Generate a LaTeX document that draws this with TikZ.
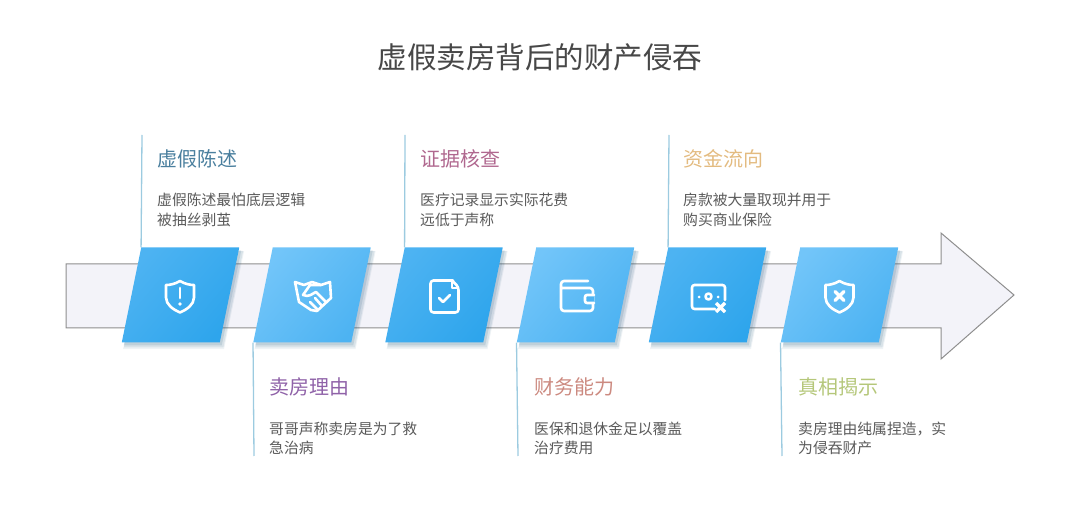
\documentclass[tikz,border=0pt]{standalone}
\usepackage{fontspec}
\setmainfont{Noto Sans CJK SC}
\usetikzlibrary{calc,shadows,shapes.geometric}
\definecolor{BodyGray}{HTML}{5A5A5A}
\definecolor{TitleGray}{HTML}{474747}
\definecolor{ArrowFill}{HTML}{F3F3F9}
\definecolor{ArrowEdge}{HTML}{8E8E8E}
\definecolor{StemBlue}{HTML}{9CCBE0}
\definecolor{PanelLight}{HTML}{72C5F9}
\definecolor{PanelMid}{HTML}{4DB3F2}
\definecolor{PanelDark}{HTML}{2EA5EC}
\definecolor{LieBlue}{HTML}{4A7F9E}
\definecolor{ReasonPurple}{HTML}{8F62A8}
\definecolor{ProofRose}{HTML}{B0688F}
\definecolor{MoneyRed}{HTML}{CC8A80}
\definecolor{FlowGold}{HTML}{E3BB80}
\definecolor{TruthGreen}{HTML}{B5C77A}
\tikzset{
    panel/.style={rectangle,minimum width=98pt,minimum height=95pt,inner sep=0pt,xslant=.205,transform shape,
      general shadow={shadow xshift=3pt,shadow yshift=-5pt,shadow scale=1.03,fill=PanelDark!50!black,opacity=.07},
      general shadow={shadow xshift=3pt,shadow yshift=-4pt,shadow scale=1.015,fill=PanelDark!50!black,opacity=.10},
      general shadow={shadow xshift=2pt,shadow yshift=-3pt,fill=PanelDark!50!black,opacity=.13}},
    deeppanel/.style={panel,top color=PanelMid,bottom color=PanelDark,shading angle=50},
    palepanel/.style={panel,top color=PanelLight,bottom color=PanelMid,shading angle=50},
    stem/.style={StemBlue,line width=1.3pt},
    headtext/.style={anchor=west,inner sep=0pt,font=\fontsize{20}{24}\selectfont},
    bodytext/.style={anchor=north west,inner sep=0pt,align=left,text=BodyGray,font=\fontsize{14.8}{19.4}\selectfont},
    icon/.style={white,line width=2.6pt,line cap=round,line join=round},
    shieldicon/.pic={
      \draw[icon] (0,-15.5) .. controls (5,-12.5) and (10,-11.5) .. (14,-11.5) -- (14,1)
        .. controls (14,8) and (7,13) .. (0,16) .. controls (-7,13) and (-14,8) .. (-14,1) -- (-14,-11.5)
        .. controls (-10,-11.5) and (-5,-12.5) .. (0,-15.5) -- cycle;
    }
}
\begin{document}
\begin{tikzpicture}[x=1pt,y=-1pt]
    \useasboundingbox (0,0) rectangle (1080,510);
    \node[anchor=center,inner sep=0pt,text=TitleGray,font=\fontsize{29.5}{34}\selectfont] (title) at (540,57) {虚假卖房背后的财产侵吞};
    \draw[fill=ArrowFill,draw=ArrowEdge,line width=1pt,line join=miter] (66,264) -- (941,264) -- (941,233) -- (1014,295) -- (941,359) -- (941,328) -- (66,328) -- cycle;
    \foreach \name/\cx in {panelA/180.5,panelC/444,panelE/707.5}
      \node[deeppanel] (\name) at (\cx,295) {};
    \foreach \name/\cx in {panelB/312,panelD/575.5,panelF/839.5}
      \node[palepanel] (\name) at (\cx,295) {};
    \foreach \name/\sx in {stemA/142,stemC/405,stemE/669}
      \coordinate (\name) at (\sx,135);
    \foreach \name/\sx in {stemB/254,stemD/518,stemF/782}
      \coordinate (\name) at (\sx,456);
    \foreach \name/\tip in {A/north west,C/north west,E/north west,B/south west,D/south west,F/south west}
      \draw[stem] (panel\name.\tip) -- (stem\name);

    \pic at (180,296.5) {shieldicon};
    \draw[white,line width=2.8pt,line cap=round] (180,288) -- (180,298);
    \fill[white] (180,304) circle (1.9);

    \draw[icon] (295,282) -- (304,285) -- (312,282) -- (321,285) -- (330,282) -- (331,298) -- (317,311) -- (311,310) -- (299,302) -- cycle;
    \draw[icon] (321,285) -- (310,285) -- (303,295) .. controls (309,298) and (313,293) .. (316,292) -- (326,302);
    \draw[icon] (318,310) -- (310,302) (322,306) -- (315,298);

    \draw[icon,rounded corners=3pt] (453,280.5) -- (436,280.5) -- (430.5,280.5) -- (430.5,312.5) -- (458.5,312.5) -- (458.5,287) -- (452,280.5);
    \draw[icon] (452,281) -- (452,288) -- (458,288);
    \draw[icon] (439,298) -- (443,302) -- (450,295);

    \draw[icon,rounded corners=3pt] (588,281) -- (561,281) -- (561,311) -- (593,311) -- (593,288) -- (561,288);
    \draw[icon,fill=PanelMid,rounded corners=2pt] (594,295) -- (585,295) -- (585,303) -- (594,303);

    \draw[icon,rounded corners=2.5pt] (715,309) -- (692,309) -- (692,285) -- (725,285) -- (725,300);
    \draw[icon] (708.5,296.5) circle (3);
    \fill[white] (699,297) circle (1.5) (718,297) circle (1.5);
    \draw[white,line width=3.2pt] (716,303) -- (725,312) (725,303) -- (716,312);

    \pic at (839.5,296.5) {shieldicon};
    \draw[white,line width=3.2pt,line cap=round] (835,291.5) -- (844,300.5) (844,291.5) -- (835,300.5);

    \node[headtext,text=LieBlue] (headA) at (157,159) {虚假陈述};
    \node[bodytext] (bodyA) at (157,193) {虚假陈述最怕底层逻辑\\被抽丝剥茧};
    \node[headtext,text=ReasonPurple] (headB) at (269,387) {卖房理由};
    \node[bodytext] (bodyB) at (269,421.5) {哥哥声称卖房是为了救\\急治病};
    \node[headtext,text=ProofRose] (headC) at (420,159) {证据核查};
    \node[bodytext] (bodyC) at (420,193) {医疗记录显示实际花费\\远低于声称};
    \node[headtext,text=MoneyRed] (headD) at (534,387) {财务能力};
    \node[bodytext] (bodyD) at (534,421.5) {医保和退休金足以覆盖\\治疗费用};
    \node[headtext,text=FlowGold] (headE) at (683,159) {资金流向};
    \node[bodytext] (bodyE) at (683,193) {房款被大量取现并用于\\购买商业保险};
    \node[headtext,text=TruthGreen] (headF) at (798,387) {真相揭示};
    \node[bodytext] (bodyF) at (798,421.5) {卖房理由纯属捏造，实\\为侵吞财产};
\end{tikzpicture}
\end{document}
